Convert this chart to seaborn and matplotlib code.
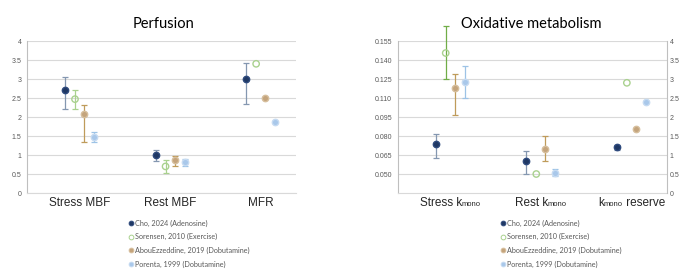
import numpy as np
import pandas as pd
from matplotlib import pyplot as plt
from matplotlib.lines import Line2D
from matplotlib.offsetbox import TextArea, HPacker, AnnotationBbox
import seaborn as sns

studies = ['Cho, 2024 (Adenosine)', 'Sorensen, 2010 (Exercise)',
           'AbouEzzeddine, 2019 (Dobutamine)', 'Porenta, 1999 (Dobutamine)']

# perfusion panel
perf_cats = ['Stress MBF', 'Rest MBF', 'MFR']
perf_val = [[2.72, 0.99, 3.00], [2.47, 0.70, 3.40], [2.07, 0.86, 2.51], [1.48, 0.81, 1.86]]
perf_lo = [[2.22, 0.85, 2.35], [2.22, 0.53, np.nan], [1.34, 0.72, np.nan], [1.35, 0.72, np.nan]]
perf_hi = [[3.05, 1.12, 3.42], [2.71, 0.87, np.nan], [2.31, 0.97, np.nan], [1.60, 0.89, np.nan]]

# oxidative panel: stress / rest kmono on left axis, reserve on right axis
# each label split as (normal, small, normal)
oxi_cats = [('Stress k', 'mono', ''), ('Rest k', 'mono', ''), ('k', 'mono', ' reserve')]
kmono_val = [[0.0734, 0.0605], [0.1455, 0.0500], [0.1182, 0.0697], [0.1224, 0.0511]]
kmono_lo = [[0.0626, 0.0500], [0.1250, np.nan], [0.0966, 0.0603], [0.1097, 0.0487]]
kmono_hi = [[0.0813, 0.0682], [0.1670, np.nan], [0.1292, 0.0797], [0.1350, 0.0537]]
reserve_val = [1.20, 2.90, 1.68, 2.39]
reserve_lo = [1.14, np.nan, np.nan, np.nan]
reserve_hi = [1.26, np.nan, np.nan, np.nan]

face = ['#1F3864', 'none', '#C4A47C', '#A9C8EA']
edge = ['#2E4A7D', '#A9D18E', '#D6BE9C', '#C5DAF1']
bar_col = ['#8497B0', '#A9D18E', '#BF9B5A', '#9DC3E6']
offsets = [-0.16, -0.05, 0.05, 0.16]
grey = '#595959'

sns.set_style('white')
plt.rcParams['font.family'] = ['Liberation Sans', 'DejaVu Sans']

fig = plt.figure(figsize=(6.85, 2.79), dpi=100)
ax1 = fig.add_axes([0.0394, 0.3082, 0.3927, 0.5448])
ax2 = fig.add_axes([0.5806, 0.3082, 0.3927, 0.5448])
ax3 = ax2.twinx()


def draw(ax, xs, vals, lo, hi, i, bcolor=None):
    vals = np.asarray(vals, float)
    lo = np.asarray(lo, float)
    hi = np.asarray(hi, float)
    has = ~np.isnan(lo)
    if has.any():
        ax.errorbar(xs[has], vals[has], yerr=[vals[has] - lo[has], hi[has] - vals[has]],
                    fmt='none', ecolor=bcolor or bar_col[i], elinewidth=0.9,
                    capsize=2.2, capthick=0.9, zorder=2, clip_on=False)
    df = pd.DataFrame({'x': xs, 'y': vals})
    sns.scatterplot(data=df, x='x', y='y', ax=ax, s=21, marker='o',
                    facecolor=face[i], edgecolor=edge[i], linewidth=1.0,
                    zorder=3, legend=False, clip_on=False)


for i in range(4):
    xs = np.arange(len(perf_cats)) + offsets[i]
    draw(ax1, xs, perf_val[i], perf_lo[i], perf_hi[i], i)
    xs = np.arange(2) + offsets[i]
    draw(ax2, xs, kmono_val[i], kmono_lo[i], kmono_hi[i], i,
         '#70AD47' if i == 1 else None)
    xs = np.array([2.0]) + offsets[i]
    draw(ax3, xs, [reserve_val[i]], [reserve_lo[i]], [reserve_hi[i]], i)

ax1.set_ylim(0, 4)
ax1.set_yticks(np.arange(0, 4.01, 0.5))
ax1.set_yticklabels([f'{v:g}' for v in np.arange(0, 4.01, 0.5)])
ax2.set_ylim(0.035, 0.155)
ax2.set_yticks(np.arange(0.050, 0.1551, 0.015))
ax2.set_yticklabels([f'{v:.3f}' for v in np.arange(0.050, 0.1551, 0.015)])
ax3.set_ylim(0, 4)
ax3.set_yticks(np.arange(0, 4.01, 0.5))
ax3.set_yticklabels([f'{v:g}' for v in np.arange(0, 4.01, 0.5)])

for ax in (ax1, ax2):
    ax.set_xlim(-0.58, 2.39)
    ax.set_xticks(range(3))
    ax.set_xlabel('')
    ax.set_ylabel('')
    ax.grid(True, axis='y', color='#D9D9D9', linewidth=0.8)
    ax.set_axisbelow(True)
    ax.tick_params(axis='x', length=0, pad=3, labelsize=8.5, labelcolor='#262626')
    ax.tick_params(axis='y', length=0, pad=4, labelsize=5, labelcolor=grey)
    for s in ('top', 'right'):
        ax.spines[s].set_visible(False)
    ax.spines['left'].set_color('#BFBFBF')
    ax.spines['bottom'].set_color('#D9D9D9')

ax1.set_xticklabels(perf_cats)
ax2.set_xticklabels([''] * 3)

# category labels with small "mono" on the baseline
for k, parts in enumerate(oxi_cats):
    boxes = []
    for txt, size in zip(parts, (8.5, 5.5, 8.5)):
        if txt:
            boxes.append(TextArea(txt, textprops=dict(fontsize=size, color='#262626')))
    pack = HPacker(children=boxes, align='baseline', pad=0, sep=0)
    ab = AnnotationBbox(pack, (k, 0), xycoords=ax2.get_xaxis_transform(),
                        xybox=(0, -3), boxcoords='offset points',
                        box_alignment=(0.5, 1), frameon=False, annotation_clip=False)
    ax2.add_artist(ab)

ax3.set_ylabel('')
ax3.tick_params(axis='y', length=0, pad=2, labelsize=5, labelcolor=grey)
for s in ('top', 'left', 'bottom'):
    ax3.spines[s].set_visible(False)
ax3.spines['right'].set_visible(True)
ax3.spines['right'].set_color('#BFBFBF')

fig.text(0.238, 0.914, 'Perfusion', ha='center', va='center', fontsize=10.5,
         family=['Lato', 'DejaVu Sans'], color='#000000')
fig.text(0.776, 0.914, 'Oxidative metabolism', ha='center', va='center', fontsize=10.5,
         family=['Lato', 'DejaVu Sans'], color='#000000')

handles = [Line2D([], [], linestyle='none', marker='o', markersize=3.4,
                  markerfacecolor=face[i], markeredgecolor=edge[i], markeredgewidth=0.7)
           for i in range(4)]
for x0 in (0.189, 0.732):
    fig.legend(handles, studies, loc='upper left', bbox_to_anchor=(x0, 0.213),
               frameon=False, handlelength=0.45, handletextpad=0.3,
               labelspacing=0.9, borderpad=0, borderaxespad=0,
               prop={'family': ['Lato', 'DejaVu Sans'], 'size': 5.2}, labelcolor=grey)

plt.savefig('out.png', dpi=100)
